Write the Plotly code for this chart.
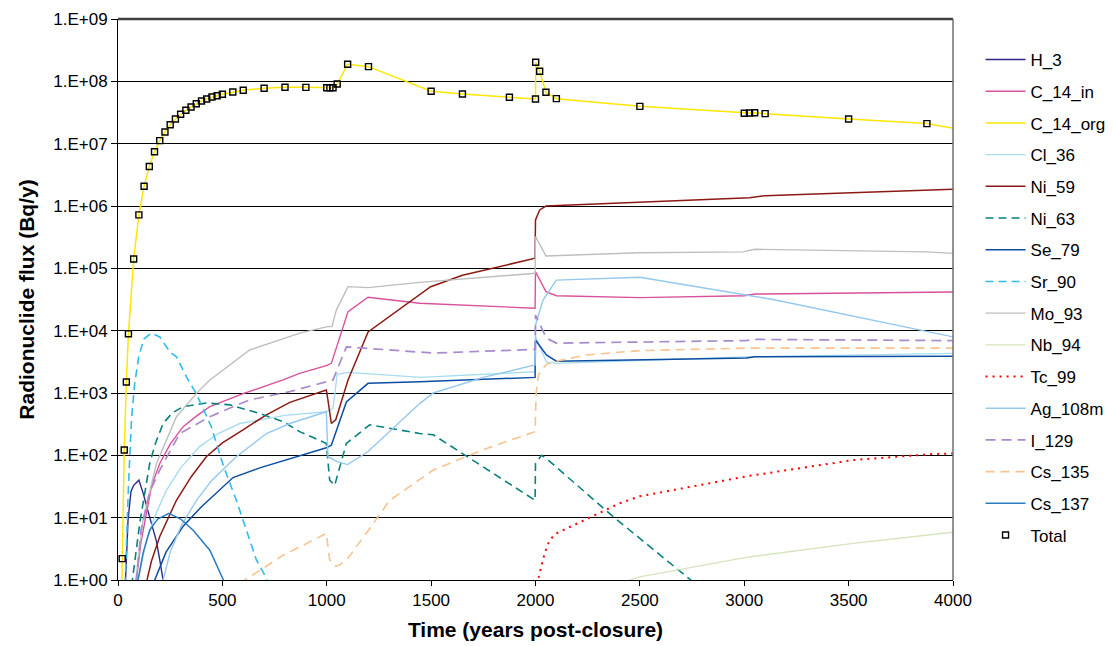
import plotly.graph_objects as go

# ---- radionuclide release data (time in years post-closure, flux in Bq/y) ----
H3_YEARS = [30, 35, 48, 62, 75, 100, 120, 144, 165, 184, 200, 216, 225]
H3_FLUX = [0.32, 1.0, 9.1, 26, 33, 40, 25, 12.6, 7.1, 4.2, 2.1, 1.0, 0.5]

C14IN_YEARS = [80, 88, 110, 136, 160, 200, 250, 312, 380, 440, 599, 791, 870, 998, 1022,
               1102, 1198, 1445, 1998, 2000, 2050, 2100, 2500, 3000, 3050, 4000]
C14IN_FLUX = [0.3, 1.0, 4.0, 11.7, 31.6, 74, 151, 288, 437, 603, 977, 1620, 2070, 2750, 2990,
              2.02e4, 3.43e4, 2.75e4, 2.29e4, 8.83e4, 4.22e4, 3.64e4, 3.39e4, 3.64e4, 3.87e4, 4.17e4]

TOTAL_YEARS = [20, 30, 40, 50, 75, 100, 125, 150, 175, 200, 225, 250, 275, 300, 325, 350, 375,
               400, 425, 450, 475, 500, 550, 600, 700, 800, 900, 1000, 1015, 1030, 1050, 1100,
               1200, 1500, 1650, 1875, 2000, 2001, 2020, 2050, 2100, 2500, 3000, 3025, 3050,
               3100, 3500, 3875]
TOTAL_FLUX = [2.2, 122, 1.5e3, 8.9e3, 1.41e5, 7.2e5, 2.07e6, 4.3e6, 7.4e6, 1.12e7, 1.54e7,
              2.01e7, 2.49e7, 2.96e7, 3.43e7, 3.87e7, 4.37e7, 4.83e7, 5.21e7, 5.6e7, 5.88e7,
              6.19e7, 6.74e7, 7.18e7, 7.73e7, 8.02e7, 8.0e7, 7.9e7, 7.9e7, 7.9e7, 9.06e7,
              1.88e8, 1.72e8, 6.92e7, 6.26e7, 5.54e7, 5.2e7, 2.02e8, 1.45e8, 6.67e7, 5.27e7,
              3.97e7, 3.07e7, 3.1e7, 3.14e7, 3.03e7, 2.49e7, 2.1e7]

C14ORG_YEARS = [10] + TOTAL_YEARS + [4000]
C14ORG_FLUX = [0.02] + TOTAL_FLUX + [1.76e7]

CL36_YEARS = [90, 96, 136, 180, 232, 300, 391, 480, 583, 800, 998, 1030, 1050, 1100, 1450,
              1998, 2000, 2052, 2100, 3010, 4000]
CL36_FLUX = [0.32, 1.0, 4.4, 11.2, 27.5, 63, 138, 224, 324, 437, 501, 562, 2000, 2140, 1780,
             2190, 7940, 3160, 2990, 3800, 4330]

NI59_YEARS = [130, 139, 160, 200, 280, 350, 423, 500, 599, 711, 823, 998, 1005, 1022, 1043,
              1102, 1198, 1445, 1498, 1650, 1829, 1998, 2000, 2020, 2050, 3026, 3098, 4000]
NI59_FLUX = [0.5, 1.0, 2.0, 5.0, 19, 45, 95, 158, 257, 447, 708, 1120, 794, 324, 372,
             1620, 9550, 3.72e4, 5.07e4, 7.73e4, 1.06e5, 1.45e5, 5.96e5, 8.63e5, 1.0e6,
             1.36e6, 1.46e6, 1.85e6]

NI63_YEARS = [60, 69, 104, 130, 152, 180, 216, 260, 312, 423, 536, 679, 791, 870, 998, 1014,
              1038, 1094, 1206, 1445, 1510, 1998, 2000, 2029, 2052, 2372, 2723, 2760]
NI63_FLUX = [0.5, 1.0, 8.1, 28, 74, 158, 324, 479, 603, 692, 646, 468, 347, 240, 155, 40,
             33, 155, 309, 224, 214, 19, 74, 100, 89, 10.4, 1.13, 0.9]

SE79_YEARS = [165, 176, 230, 311, 400, 551, 679, 823, 998, 1022, 1094, 1198, 1445, 1998, 2000,
              2052, 2100, 3010, 3050, 4000]
SE79_FLUX = [0.5, 1.0, 2.8, 7.2, 15, 44, 63, 89, 132, 145, 720, 1430, 1510, 1780, 7080,
             4070, 3240, 3630, 3800, 3890]

SR90_YEARS = [30, 35, 50, 65, 80, 100, 125, 160, 200, 250, 280, 328, 375, 447, 506, 567, 615,
              663, 711, 730]
SR90_FLUX = [0.32, 1.0, 32, 398, 1410, 3980, 7410, 9120, 7940, 4500, 3800, 1820, 977, 288, 66,
             19, 6.3, 2.1, 1.07, 0.63]

MO93_YEARS = [78, 85, 120, 184, 280, 375, 440, 631, 871, 998, 1025, 1046, 1102, 1198, 1445,
              1998, 2000, 2050, 2499, 2995, 3050, 3873, 4000]
MO93_FLUX = [0.5, 1.0, 9.1, 74, 417, 977, 1620, 4900, 9120, 1.15e4, 1.17e4, 2.14e4, 5.08e4,
             4.9e4, 5.96e4, 8.32e4, 3.24e5, 1.58e5, 1.78e5, 1.84e5, 2.02e5, 1.84e5, 1.74e5]

NB94_YEARS = [2440, 2451, 2499, 3010, 3522, 4000]
NB94_FLUX = [0.8, 1.0, 1.12, 2.31, 3.87, 5.82]

TC99_YEARS = [2008, 2012, 2044, 2068, 2100, 2132, 2260, 2404, 2499, 3010, 3522, 3905, 4000]
TC99_FLUX = [0.5, 1.0, 2.7, 4.4, 5.6, 6.3, 9.8, 17, 22, 46, 84, 105, 107]

AG108M_YEARS = [210, 216, 250, 300, 376, 450, 567, 711, 823, 998, 1006, 1050, 1100, 1198, 1445,
                1510, 1750, 1998, 2001, 2036, 2100, 2500, 3138, 4000]
AG108M_FLUX = [0.5, 1.0, 2.8, 7.1, 19, 40, 95, 224, 324, 501, 95, 79, 71, 115, 676, 1000,
               1780, 2820, 1.26e4, 3.09e4, 6.46e4, 7.18e4, 3.16e4, 7940]

I129_YEARS = [80, 88, 110, 150, 200, 296, 440, 551, 631, 823, 998, 1030, 1094, 1510, 1998,
              2000, 2052, 2100, 3010, 3050, 4000]
I129_FLUX = [0.5, 1.0, 6.3, 25, 58, 224, 417, 603, 776, 1050, 1510, 1620, 5500, 4370, 5010,
             1.78e4, 7590, 6310, 6920, 7240, 6920]

CS135_YEARS = [600, 607, 700, 791, 900, 998, 1014, 1040, 1062, 1102, 1200, 1302, 1510, 1749,
               1998, 2003, 2015, 2052, 2100, 2244, 2499, 3010, 4000]
CS135_FLUX = [0.8, 1.0, 1.58, 2.5, 3.8, 5.6, 2.1, 1.66, 1.74, 2.24, 6.3, 19, 58, 123, 240,
              1000, 2000, 2880, 3240, 4070, 4790, 5250, 5250]

CS137_YEARS = [90, 96, 120, 152, 190, 244, 300, 360, 440, 505, 520]
CS137_FLUX = [0.5, 1.0, 2.7, 6.3, 9.5, 11.7, 9.5, 6.3, 3.0, 1.0, 0.7]

Y_TICKS = [1, 10, 100, 1e3, 1e4, 1e5, 1e6, 1e7, 1e8, 1e9]
Y_TICK_TEXT = ["1.E+00", "1.E+01", "1.E+02", "1.E+03", "1.E+04",
               "1.E+05", "1.E+06", "1.E+07", "1.E+08", "1.E+09"]
X_TICKS = [0, 500, 1000, 1500, 2000, 2500, 3000, 3500, 4000]

FONT = "Liberation Sans, Arial, sans-serif"

# name, years, flux, colour, dash pattern, line width
series = [
    ("H_3", H3_YEARS, H3_FLUX, "#2E2A86", "solid", 1.4),
    ("C_14_in", C14IN_YEARS, C14IN_FLUX, "#D9509C", "solid", 1.4),
    ("C_14_org", C14ORG_YEARS, C14ORG_FLUX, "#FFE600", "solid", 1.5),
    ("Cl_36", CL36_YEARS, CL36_FLUX, "#A8DCF0", "solid", 1.4),
    ("Ni_59", NI59_YEARS, NI59_FLUX, "#8C1A14", "solid", 1.5),
    ("Ni_63", NI63_YEARS, NI63_FLUX, "#0A8080", "8px,5px", 1.6),
    ("Se_79", SE79_YEARS, SE79_FLUX, "#0B4EA2", "solid", 1.5),
    ("Sr_90", SR90_YEARS, SR90_FLUX, "#33BBEE", "8px,5px", 1.6),
    ("Mo_93", MO93_YEARS, MO93_FLUX, "#BEBEBE", "solid", 1.4),
    ("Nb_94", NB94_YEARS, NB94_FLUX, "#D6E4BE", "solid", 1.4),
    ("Tc_99", TC99_YEARS, TC99_FLUX, "#FF0000", "2px,5px", 2.0),
    ("Ag_108m", AG108M_YEARS, AG108M_FLUX, "#95C8EE", "solid", 1.4),
    ("I_129", I129_YEARS, I129_FLUX, "#A88BCC", "10px,6px", 1.7),
    ("Cs_135", CS135_YEARS, CS135_FLUX, "#FAC28E", "9px,6px", 1.6),
    ("Cs_137", CS137_YEARS, CS137_FLUX, "#2A7BC0", "solid", 1.5),
]

fig = go.Figure()

for name, yrs, flux, color, dash, width in series:
    fig.add_trace(go.Scatter(
        x=yrs, y=flux, mode="lines", name=name, legendgroup=name,
        line=dict(color=color, width=width, dash=dash),
    ))

fig.add_trace(go.Scatter(
    x=TOTAL_YEARS, y=TOTAL_FLUX, mode="markers", name="Total", legendgroup="Total",
    marker=dict(symbol="square-open", size=6, color="#000000",
                line=dict(width=1.4, color="#000000")),
))

fig.update_layout(
    width=1113, height=646,
    margin=dict(l=118, r=160, t=19, b=66, autoexpand=False),
    paper_bgcolor="white", plot_bgcolor="white",
    font=dict(family=FONT, size=17, color="black"),
    showlegend=True,
    legend=dict(
        x=1.033, xanchor="left", y=0.959, yanchor="top",
        font=dict(family=FONT, size=17, color="black"),
        tracegroupgap=6.6, itemwidth=40, bgcolor="rgba(0,0,0,0)",
    ),
    xaxis=dict(
        range=[0, 4000], tickvals=X_TICKS, ticks="outside", ticklen=5,
        tickcolor="black", showline=True, linecolor="black", linewidth=1,
        showgrid=False, zeroline=False, tickfont=dict(size=17),
        title=dict(text="<b>Time (years post-closure)</b>",
                   font=dict(family=FONT, size=21), standoff=12),
    ),
    yaxis=dict(
        type="log", range=[0, 9], tickvals=Y_TICKS, ticktext=Y_TICK_TEXT,
        ticks="outside", ticklen=6, tickcolor="black", showline=True,
        linecolor="black", linewidth=1, showgrid=True, gridcolor="#000000",
        gridwidth=1, zeroline=False, tickfont=dict(size=17),
        title=dict(text="<b>Radionuclide flux (Bq/y)</b>",
                   font=dict(family=FONT, size=21), standoff=12),
    ),
    shapes=[
        dict(type="line", xref="paper", yref="paper", x0=0, x1=1, y0=1, y1=1,
             line=dict(color="#404040", width=2.5)),
        dict(type="line", xref="paper", yref="paper", x0=1, x1=1, y0=0, y1=1,
             line=dict(color="#6E6E6E", width=1.5)),
    ],
)

fig.write_html("out.html")
